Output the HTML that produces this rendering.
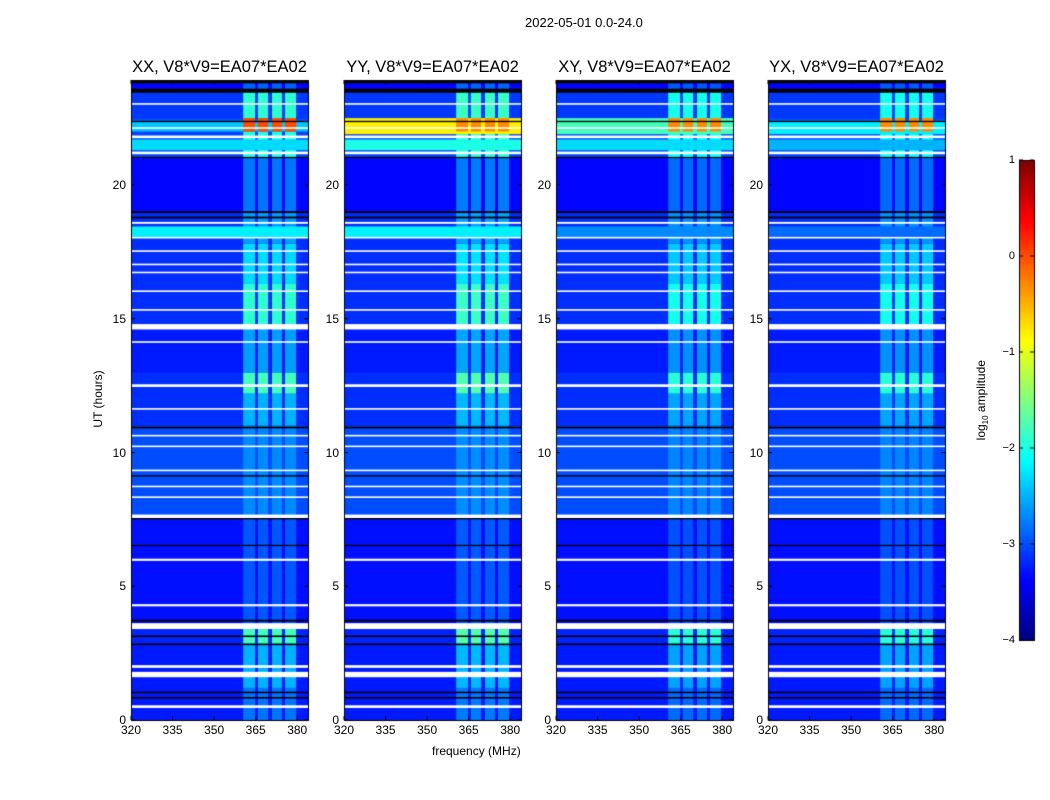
<!DOCTYPE html>
<html><head><meta charset="utf-8">
<style>
body{margin:0;background:#fff;width:1050px;height:800px;overflow:hidden;position:relative;font-family:"Liberation Sans",sans-serif;color:#000}
.t{position:absolute;white-space:nowrap;font-size:12px}
canvas{position:absolute;left:0;top:0}
</style></head><body>
<canvas id="c" width="1050" height="800"></canvas>
<div id="labels"></div>
<script>
// ---- data ----
const panelNames = ['XX, V8*V9=EA07*EA02','YY, V8*V9=EA07*EA02','XY, V8*V9=EA07*EA02','YX, V8*V9=EA07*EA02'];
const panelLeft = [131,344,556,768];
const xTicks = [320,335,350,365,380];
const yTicks = [0,5,10,15,20];
const cbTicks = [1,0,-1,-2,-3,-4];
// time segments [startH, endH, baseLog, rfiLog]
const timeSegs = [[0,1.2,-3.25,-2.8],[1.2,2.8,-3.25,-2.5],[2.8,3.4,-3.2,-1.8],[3.6,7.6,-3.3,-2.95],[7.6,11,-3.0,-2.7],[11,12.2,-3.15,-2.5],[12.2,13,-3.15,-1.8],[13,14.7,-3.25,-2.6],[14.7,16.3,-3.15,-1.9],[16.3,17.8,-3.15,-2.3],[17.8,19,-3.15,-2.6],[19,21,-3.35,-2.8],[21,22,-3.05,-2.0],[22,22.5,-3.0,-0.2],[22.5,23.5,-3.1,-1.9],[23.5,24,-3.35,-2.9]];
const rfiCols = [[360.5,364.8],[365.8,369.5],[370.9,374.5],[375.6,379.6]];
const rfiScale = [1.0,1.05,0.9,0.9];
// full-width bands per panel [startH,endH,log]
const bandsXX = [[21.3,21.7,-2.3],[18.05,18.45,-2.2],[22.0,22.4,-2.4]];
const bandsYY = [[21.9,22.5,-0.8],[21.3,21.7,-2.0],[18.05,18.45,-2.2]];
const bandsXY = [[21.9,22.5,-1.8],[21.3,21.7,-2.3],[18.05,18.45,-2.7]];
const bandsYX = [[21.9,22.4,-2.2],[21.3,21.7,-2.5],[18.05,18.45,-2.85]];
const panelBands = [bandsXX,bandsYY,bandsXY,bandsYX];
// flagged rows
const whiteRows = [[0.45,0.55],[1.6,1.8],[1.95,2.05],[3.4,3.62],[4.25,4.33],[5.95,6.03],[7.55,7.68],[8.3,8.36],[8.7,8.76],[9.3,9.36],[10.2,10.26],[10.6,10.66],[11.6,11.66],[12.45,12.55],[14.1,14.16],[14.6,14.8],[15.3,15.36],[16.0,16.06],[16.7,16.76],[17.0,17.06],[17.5,17.56],[18.0,18.06],[18.55,18.62],[21.15,21.25],[21.75,21.85],[22.1,22.16],[23.0,23.06]];
const blackRows = [[0.8,0.86],[1.0,1.06],[2.8,2.86],[3.1,3.16],[3.68,3.75],[6.5,6.55],[7.5,7.55],[9.1,9.15],[10.9,10.97],[18.75,18.82],[18.95,19.02],[21.0,21.05],[22.35,22.4],[23.45,23.6],[23.8,23.9]];
// ---- axes ----
const fx0=320, pxPerMHz=2.77, plotTop=80, plotBot=720, pxPerH=26.75, pw=177;
function X(p,f){return panelLeft[p]+(f-fx0)*pxPerMHz;}
function Y(h){return plotBot-h*pxPerH;}
function jet(v){let t=(v+4)/5;t=Math.max(0,Math.min(1,t));const c=x=>Math.round(255*Math.max(0,Math.min(1,x)));return `rgb(${c(1.5-Math.abs(4*t-3))},${c(1.5-Math.abs(4*t-2))},${c(1.5-Math.abs(4*t-1))})`;}
const ctx=document.getElementById('c').getContext('2d');
const L=document.getElementById('labels');
function txt(s,x,y,name,extra){const d=document.createElement('div');d.className='t';d.textContent=s;d.style.left=x+'px';d.style.top=y+'px';if(extra)Object.assign(d.style,extra);


L.appendChild(d);return d;}
for(let p=0;p<4;p++){
  const x0=panelLeft[p];
  ctx.save();ctx.beginPath();ctx.rect(x0,plotTop,pw,plotBot-plotTop);ctx.clip();
  ctx.fillStyle=jet(-3.3);ctx.fillRect(x0,plotTop,pw,plotBot-plotTop);
  timeSegs.forEach(s=>{
    ctx.fillStyle=jet(s[2]);ctx.fillRect(x0,Y(s[1]),pw,Y(s[0])-Y(s[1]));
    rfiCols.forEach(c=>{ctx.fillStyle=jet(s[2]+(s[3]-s[2])*rfiScale[p]);ctx.fillRect(X(p,c[0]),Y(s[1]),X(p,c[1])-X(p,c[0]),Y(s[0])-Y(s[1]));});
  });
  panelBands[p].forEach(b=>{ctx.fillStyle=jet(b[2]);ctx.fillRect(x0,Y(b[1]),pw,Y(b[0])-Y(b[1]));});
  rfiCols.forEach(c=>{ctx.fillStyle=jet(p===0?0.0:-0.3);ctx.fillRect(X(p,c[0]),Y(22.5),X(p,c[1])-X(p,c[0]),Y(22.0)-Y(22.5));});
  whiteRows.forEach(r=>{ctx.fillStyle='#fff';ctx.fillRect(x0,Y(r[1]),pw,Math.max(1.5,Y(r[0])-Y(r[1])));});
  blackRows.forEach(r=>{ctx.fillStyle='#000';ctx.fillRect(x0,Y(r[1]),pw,Math.max(1,Y(r[0])-Y(r[1])));});
  ctx.restore();
  ctx.strokeStyle='#000';ctx.lineWidth=1;ctx.strokeRect(x0+0.5,plotTop+0.5,pw,plotBot-plotTop);
  xTicks.forEach(f=>{const x=X(p,f);ctx.beginPath();ctx.moveTo(x,plotBot);ctx.lineTo(x,plotBot-4);ctx.moveTo(x,plotTop);ctx.lineTo(x,plotTop+4);ctx.stroke();
    txt(String(f),x-10,723,'x-tick-label',{width:'20px',textAlign:'center'});});
  yTicks.forEach(h=>{const y=Y(h);ctx.beginPath();ctx.moveTo(x0,y);ctx.lineTo(x0+4,y);ctx.moveTo(x0+pw,y);ctx.lineTo(x0+pw-4,y);ctx.stroke();
    txt(String(h),x0-25,y-7,'y-tick-label',{width:'20px',textAlign:'right'});});
  txt(panelNames[p],x0-12,58,'panel-title',{width:(pw+24)+'px',textAlign:'center',fontSize:'16.5px'});
}
// colorbar
const cbX=1019,cbW=15,cbTop=160,cbBot=640;
for(let y=cbTop;y<cbBot;y++){ctx.fillStyle=jet(1-(y-cbTop)/(cbBot-cbTop)*5);ctx.fillRect(cbX,y,cbW,1);}
ctx.strokeRect(cbX+0.5,cbTop+0.5,cbW,cbBot-cbTop);
cbTicks.forEach(v=>{const y=cbTop+(1-v)/5*(cbBot-cbTop);ctx.beginPath();ctx.moveTo(cbX,y);ctx.lineTo(cbX+4,y);ctx.moveTo(cbX+cbW,y);ctx.lineTo(cbX+cbW-4,y);ctx.stroke();
  txt(v<0?'\u2212'+(-v):String(v),cbX-34,y-6,'colorbar-tick-label',{width:'30px',textAlign:'right',fontSize:'11px'});});
txt('2022-05-01 0.0-24.0',525,15,'figure-title',{fontSize:'13px'});
txt('frequency (MHz)',432,744,'x-axis-title',{fontSize:'12px'});
txt('UT (hours)',58,392,'y-axis-title',{fontSize:'12px',transform:'rotate(-90deg)',width:'80px',textAlign:'center'});
const cl=txt('',937,392,'colorbar-title',{fontSize:'12px',transform:'rotate(-90deg)',width:'90px',textAlign:'center'});
cl.innerHTML='log<sub style="font-size:8px">10</sub> amplitude';
</script>
</body></html>
